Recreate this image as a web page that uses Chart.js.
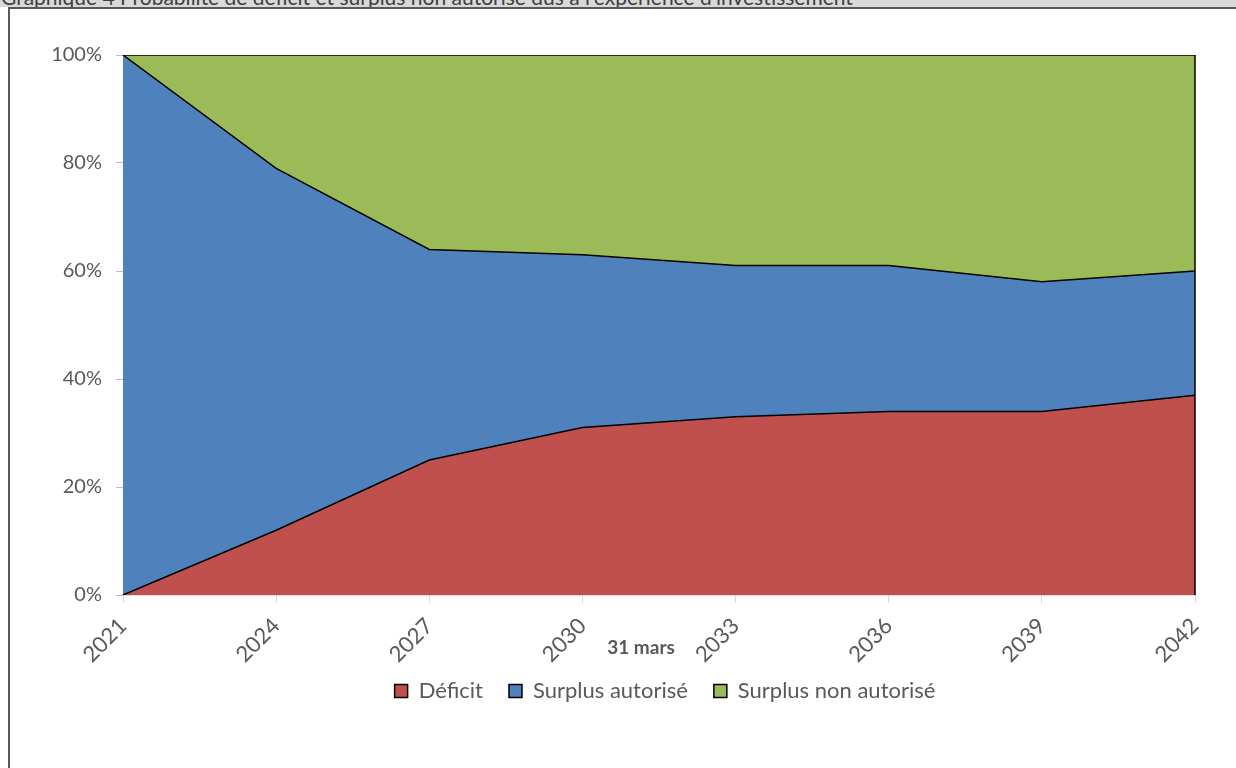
<!DOCTYPE html>
<html lang="fr">
<head>
<meta charset="utf-8">
<title>Graphique 4</title>
<script src="https://cdn.jsdelivr.net/npm/chart.js@4.4.1/dist/chart.umd.min.js"></script>
<style>
  html, body { margin: 0; padding: 0; background: #fff; overflow: hidden; }
  body { width: 1236px; height: 768px; position: relative; font-family: Lato, "Open Sans", sans-serif; }
  #entete {
    position: absolute; left: 0; top: 0; width: 1236px; height: 7px;
    background: #d9d9d9; overflow: hidden;
  }
  #entete span {
    position: absolute; left: 1px; top: -16px; font-size: 21px; line-height: 25px;
    color: #404040; white-space: nowrap;
  }
  #cadre {
    position: absolute; left: 8px; top: 7px; width: 1240px; height: 780px;
    border-top: 2px solid #595959; border-left: 2px solid #595959; box-sizing: border-box;
  }
  #zone { position: absolute; left: 10px; top: 9px; width: 1226px; height: 759px; }
</style>
</head>
<body>
<div id="entete"><span>Graphique 4 Probabilité de déficit et surplus non autorisé dus à l'expérience d'investissement</span></div>
<div id="cadre"></div>
<div id="zone"><canvas id="graphique"></canvas></div>
<script>
// Années (31 mars)
const annees = ['2021', '2024', '2027', '2030', '2033', '2036', '2039', '2042'];

// Probabilités en %, empilées à 100 %
const deficit = [0, 12, 25, 31, 33, 34, 34, 37];
const surplusAutorise = [100, 67, 39, 32, 28, 27, 24, 23];
const surplusNonAutorise = [0, 21, 36, 37, 39, 39, 42, 40];

const graduationsY = [0, 20, 40, 60, 80, 100];
const titreX = '31 mars';

const gris = '#595959';
const police = 'Lato, "Open Sans", sans-serif';

// trait noir vertical au bord droit des aires, comme dans Excel
const bordDroit = {
  id: 'bordDroit',
  afterDatasetsDraw(chart) {
    const { ctx, scales } = chart;
    const x = scales.x.getPixelForValue(annees.length - 1);
    ctx.save();
    ctx.strokeStyle = '#000';
    ctx.lineWidth = 1.5;
    ctx.beginPath();
    ctx.moveTo(x, scales.y.getPixelForValue(0));
    ctx.lineTo(x, scales.y.getPixelForValue(100));
    ctx.stroke();
    ctx.restore();
  }
};

// titre de l'axe X, un peu à gauche du centre pour ne pas toucher 2033
const titreAxeX = {
  id: 'titreAxeX',
  afterDraw(chart) {
    const { ctx, chartArea } = chart;
    ctx.save();
    ctx.fillStyle = gris;
    ctx.font = 'bold 19px ' + police;
    ctx.textAlign = 'center';
    ctx.textBaseline = 'middle';
    ctx.fillText(titreX, (chartArea.left + chartArea.right) / 2 - 18, chartArea.bottom + 53);
    ctx.restore();
  }
};

// légende centrée sous la zone de traçage, remontée contre le titre de l'axe
const legendeCentree = {
  id: 'legendeCentree',
  afterLayout(chart) {
    const lg = chart.legend;
    const area = chart.chartArea;
    if (!lg) return;
    const dx = (area.left + area.right) / 2 - (lg.left + lg.right) / 2 + 6;
    const dy = -25;
    lg.left += dx;
    lg.right += dx;
    lg.top += dy;
    lg.bottom += dy;
  }
};

const ctx = document.getElementById('graphique').getContext('2d');
new Chart(ctx, {
  type: 'line',
  data: {
    labels: annees,
    datasets: [
      {
        label: 'Déficit',
        data: deficit,
        backgroundColor: '#C0504D',
        borderColor: '#000',
        borderWidth: 1.5,
        fill: 'origin'
      },
      {
        label: 'Surplus autorisé',
        data: surplusAutorise,
        backgroundColor: '#4F81BD',
        borderColor: '#000',
        borderWidth: 1.5,
        fill: '-1'
      },
      {
        label: 'Surplus non autorisé',
        data: surplusNonAutorise,
        backgroundColor: '#9BBB59',
        borderColor: '#000',
        borderWidth: 1.5,
        fill: '-1'
      }
    ]
  },
  options: {
    responsive: true,
    maintainAspectRatio: false,
    animation: false,
    elements: { point: { radius: 0, hoverRadius: 0 }, line: { tension: 0 } },
    layout: { padding: { left: 0, top: 46, right: 41, bottom: 31 } },
    plugins: {
      tooltip: { enabled: false },
      legend: {
        position: 'bottom',
        labels: {
          color: gris,
          font: { family: police, size: 22 },
          boxWidth: 13,
          boxHeight: 13,
          padding: 26
        }
      }
    },
    scales: {
      x: {
        offset: false,
        border: { color: '#bfbfbf', width: 1.5 },
        grid: { drawOnChartArea: false, drawTicks: true, tickLength: 8, color: '#d9d9d9' },
        ticks: {
          color: gris,
          font: { family: police, size: 22 },
          minRotation: 45,
          maxRotation: 45,
          padding: 10
        },
        title: { display: false },
        afterFit(scale) { scale.height = 84; }
      },
      y: {
        stacked: true,
        min: 0,
        max: 100,
        border: { display: false },
        grid: { drawOnChartArea: false, drawTicks: true, tickLength: 7, color: '#9dc3e6' },
        afterBuildTicks(scale) { scale.ticks = graduationsY.map(v => ({ value: v })); },
        ticks: {
          color: gris,
          font: { family: police, size: 20 },
          padding: 14,
          callback: v => v + '%'
        },
        afterFit(scale) { scale.width = 113; }
      }
    }
  },
  plugins: [bordDroit, titreAxeX, legendeCentree]
});
</script>
</body>
</html>
